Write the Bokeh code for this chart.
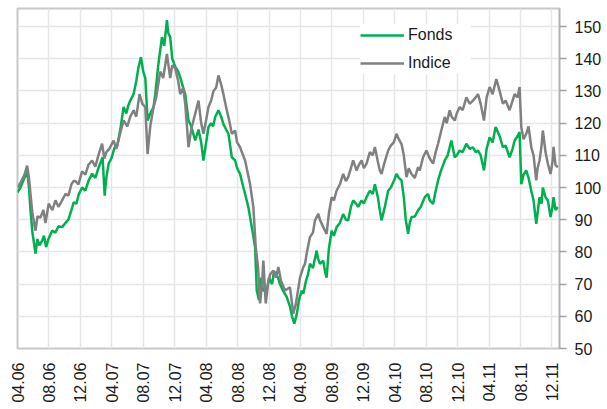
from bokeh.plotting import figure
from bokeh.models import Range1d, FixedTicker, Legend, LegendItem
from bokeh.embed import file_html
from bokeh.resources import INLINE

# x in months since April 2006
tick_labels = ["04.06", "08.06", "12.06", "04.07", "08.07", "12.07", "04.08", "08.08", "12.08",
               "04.09", "08.09", "12.09", "04.10", "08.10", "12.10", "04.11", "08.11", "12.11"]
tick_months = [0, 4, 8, 12, 16, 20, 24, 28, 32, 36, 40, 44, 48, 52, 56, 60, 64, 68]

indice_t = [0, 0.38, 0.89, 1.23, 1.46, 1.65, 1.90, 2.29, 2.54, 2.92, 3.30, 3.56, 3.97, 4.44, 4.83,
            5.21, 5.68, 6.10, 6.48, 6.86, 7.15, 7.37, 7.75, 8.22, 8.64, 9.02, 9.49, 9.91, 10.29,
            10.76, 11.05, 11.30, 11.68, 12.23, 12.57, 13.08, 13.50, 13.97, 14.35, 14.77, 15.11,
            15.53, 15.88, 16.26, 16.55, 16.89, 17.31, 17.65, 18.16, 18.54, 19.01, 19.43, 19.69,
            20.07, 20.45, 20.70, 21.08, 21.34, 21.76, 22.10, 22.39, 22.61, 23.03, 23.37, 23.66,
            24.00, 24.30, 24.64, 24.93, 25.27, 25.57, 25.91, 26.20, 26.63, 26.92, 27.27, 27.69,
            27.94, 28.32, 28.70, 28.96, 29.34, 29.59, 30.01, 30.31, 30.61, 30.86, 31.12, 31.28,
            31.58, 31.88, 32.13, 32.55, 32.89, 33.19, 33.53, 34.04, 34.67, 35.09, 35.43, 35.94,
            36.36, 36.58, 36.83, 37.21, 37.59, 37.85, 38.27, 38.48, 38.90, 39.33, 39.62, 39.97,
            40.26, 40.60, 41.02, 41.44, 41.78, 42.08, 42.42, 42.71, 43.14, 43.43, 43.78, 44.07,
            44.41, 44.83, 45.21, 45.47, 45.85, 46.10, 46.32, 46.61, 47.16, 47.50, 47.88, 48.22,
            48.51, 48.86, 49.15, 49.49, 49.78, 50.13, 50.55, 50.97, 51.18, 51.60, 52.03, 52.45,
            52.87, 53.21, 53.51, 53.85, 54.36, 54.61, 54.99, 55.24, 55.63, 55.88, 56.26, 56.64,
            57.11, 57.53, 57.95, 58.29, 58.59, 58.93, 59.35, 59.69, 60.07, 60.45, 60.92, 61.34,
            61.76, 62.10, 62.61, 62.99, 63.25, 63.63, 63.88, 64.10, 64.39, 64.73, 65.02, 65.37,
            65.66, 66.00, 66.17, 66.42, 66.68, 66.84, 67.18, 67.48, 67.82, 68.07, 68.20, 68.45,
            68.75]
indice_v = [100, 101.5, 104, 106.8, 103, 98, 92, 86.6, 91, 90.7, 93, 89, 95, 93, 96,
            94, 96, 98, 97.5, 101, 102, 102, 101, 105, 104, 107, 108.4, 106.5, 110,
            113.6, 109, 111, 112, 114.6, 112, 117, 120.8, 119, 122, 124, 122,
            129, 126, 125, 110.4, 119, 125, 128, 136, 134, 141.5, 134, 138,
            137, 133, 129, 131, 126, 112.5, 118, 120.8, 122.9, 127, 120, 116.7,
            121, 125, 127, 130, 131, 134.8, 132, 129, 124, 121, 116.7, 117.7,
            114, 112.5, 110, 108.4, 104, 101, 93.9, 81.5, 75, 64, 70, 77.3,
            64, 70, 73, 74.2, 72, 75.3, 71, 68, 69, 60.8, 64, 72,
            75.3, 76.3, 80, 84.6, 86, 89.8, 91.8, 90, 87.7, 85.6, 92, 97,
            96, 99, 101, 104.2, 102, 103.2, 106, 108.4, 105.3, 107, 108.4, 106,
            107.4, 111, 110, 112.6, 108, 105.3, 104.2, 107, 111.5, 113, 114, 116.7,
            115, 113.5, 110, 103.2, 106, 104.2, 103, 106.3, 105.3, 109.4, 111.5, 109,
            107.4, 111, 113.6, 117, 121.9, 120, 124, 122, 120.8, 123, 125, 124,
            128, 126, 127, 128, 129, 126, 120.8, 128, 131.2, 129, 133.7, 130,
            126, 127, 124, 127, 129, 128, 131.2, 118.8, 115, 116.7, 119, 112.5,
            110, 102.2, 106, 108.4, 113, 117.7, 111, 107.4, 104.2, 108, 112.6, 107,
            106.3]

fonds_t = [0, 0.38, 0.89, 1.23, 1.46, 1.65, 1.90, 2.29, 2.54, 2.79, 3.14, 3.37, 3.64, 3.94, 4.41,
           4.83, 5.21, 5.68, 6.10, 6.48, 6.86, 7.15, 7.49, 7.81, 8.22, 8.64, 9.02, 9.49, 9.91,
           10.29, 10.83, 11.09, 11.30, 11.60, 11.94, 12.36, 12.70, 13.08, 13.50, 13.84, 14.10,
           14.35, 14.77, 15.11, 15.37, 15.71, 16.00, 16.26, 16.55, 16.89, 17.31, 17.53, 17.91,
           18.38, 18.67, 19.01, 19.18, 19.43, 19.69, 20.07, 20.45, 20.70, 21.08, 21.34, 21.76,
           22.10, 22.61, 23.03, 23.37, 23.66, 24.00, 24.30, 24.64, 24.89, 25.15, 25.57, 25.91,
           26.20, 26.54, 26.84, 27.27, 27.69, 27.94, 28.32, 28.74, 28.96, 29.37, 29.81, 30.23,
           30.44, 30.73, 30.99, 31.24, 31.71, 32.00, 32.39, 32.64, 32.89, 33.15, 33.40, 33.78,
           34.25, 34.67, 34.93, 35.22, 35.56, 35.81, 36.16, 36.36, 36.70, 36.96, 37.21, 37.59,
           38.06, 38.23, 38.48, 38.90, 39.12, 39.33, 39.62, 39.97, 40.26, 40.60, 41.02, 41.44,
           41.78, 42.08, 42.42, 42.71, 43.05, 43.35, 43.78, 44.07, 44.41, 44.83, 45.21, 45.47,
           45.85, 46.10, 46.32, 46.74, 47.16, 47.50, 47.88, 48.22, 48.51, 48.86, 49.15, 49.40,
           49.70, 49.91, 50.13, 50.55, 50.97, 51.31, 51.82, 52.24, 52.45, 52.87, 53.21, 53.51,
           53.85, 54.36, 54.74, 55.20, 55.63, 55.88, 56.26, 56.64, 57.11, 57.53, 57.95, 58.29,
           58.59, 58.93, 59.35, 59.69, 60.07, 60.45, 60.83, 61.34, 61.76, 62.10, 62.61, 62.99,
           63.25, 63.63, 63.88, 64.10, 64.39, 64.73, 65.02, 65.37, 65.66, 66.00, 66.17, 66.42,
           66.68, 66.84, 67.18, 67.48, 67.82, 68.07, 68.20, 68.45, 68.75]
fonds_v = [98.5, 100, 103, 105, 100, 93, 86, 79.5, 84, 82, 83.5, 85, 81.5, 84, 86.6,
           86, 88, 87.7, 89, 90, 93, 95.4, 95, 98, 100, 99, 102, 104.3, 103,
           106, 109.4, 97.5, 103, 107.4, 109, 112.5, 113, 118, 125, 123, 125.5,
           127, 129, 133, 137, 140.5, 136, 134, 120.8, 123, 125, 129, 138,
           146.7, 144, 152, 148, 146.7, 140, 137.5, 136, 134.3, 131, 129, 120.8,
           119, 114.6, 118, 114, 108.4, 114, 118.8, 120, 119, 121.9, 124, 122,
           119.7, 118, 116.7, 109.4, 108.4, 106, 104.2, 100, 98, 93.9, 87.7, 81.5,
           68, 65, 72, 68, 68, 72, 70, 74, 73, 72, 70, 68,
           66, 63, 60, 57.7, 61, 65, 68, 67, 71, 73, 76.3, 75,
           80.4, 78, 76.3, 77.3, 74, 72, 81, 86.6, 85, 87.7, 89, 91.8,
           90, 89.8, 94, 96, 95, 94, 96, 95, 97, 99, 98, 101,
           97, 92.9, 89.8, 94, 99, 100, 102, 104.2, 103, 102.2, 97, 90,
           85.6, 89, 90.8, 91, 92.9, 94, 97, 98, 96, 94.9, 99, 102.2,
           105, 108.4, 110, 114.6, 109.4, 110, 111.5, 111, 113.6, 112, 112.5, 111,
           111.5, 110, 105.3, 112, 115.6, 114, 118.8, 116, 112.5, 113, 109.4, 112,
           114.6, 116, 117.2, 101, 104, 105.3, 103, 99, 96, 88.7, 92, 97,
           95, 100, 97, 96, 90.8, 94, 97, 93, 93.9]

y_ticks = [50, 60, 70, 80, 90, 100, 110, 120, 130, 140, 150]

FONT = "Liberation Sans"
GREEN = "#00B050"
GRAY = "#808080"

p = figure(width=604, height=406, output_backend="svg", toolbar_location=None,
           x_range=Range1d(0, 68.96), y_range=Range1d(50, 155.6),
           x_axis_location="below", y_axis_location="right",
           min_border_left=17, min_border_top=8, min_border_right=44, min_border_bottom=58)

p.outline_line_color = "#c8c8c8"
p.outline_line_width = 2
p.background_fill_color = "white"
p.border_fill_color = "white"

r_f = p.line(fonds_t, fonds_v, line_color=GREEN, line_width=2.5)
r_i = p.line(indice_t, indice_v, line_color=GRAY, line_width=2.5)

xa = p.xaxis[0]
xa.ticker = FixedTicker(ticks=tick_months)
xa.major_label_overrides = {m: lab for m, lab in zip(tick_months, tick_labels)}
xa.major_label_orientation = 3.14159265 / 2
xa.major_tick_out = 0
xa.major_tick_in = 0
xa.minor_tick_line_color = None
xa.axis_line_color = None
xa.major_label_standoff = 14
xa.major_label_text_font = FONT
xa.major_label_text_font_size = "16px"
xa.major_label_text_color = "#1a1a1a"

ya = p.yaxis[0]
ya.ticker = FixedTicker(ticks=y_ticks)
ya.major_tick_out = 7
ya.major_tick_in = 0
ya.minor_tick_line_color = None
ya.axis_line_color = "#b4b4b4"
ya.axis_line_width = 1.5
ya.major_tick_line_color = "#a0a0a0"
ya.major_tick_line_width = 1.5
ya.major_label_standoff = 8
ya.major_label_text_font = FONT
ya.major_label_text_font_size = "16px"
ya.major_label_text_color = "#1a1a1a"

p.xgrid.ticker = FixedTicker(ticks=tick_months)
p.ygrid.ticker = FixedTicker(ticks=y_ticks)
for g in (p.xgrid[0], p.ygrid[0]):
    g.grid_line_color = "#e6e6e6"
    g.grid_line_width = 1.5

legend = Legend(items=[LegendItem(label="Fonds", renderers=[r_f]),
                       LegendItem(label="Indice", renderers=[r_i])],
                location=(343, 274))
legend.border_line_color = None
legend.background_fill_color = "white"
legend.background_fill_alpha = 1.0
legend.padding = 2
legend.margin = 0
legend.spacing = 6
legend.glyph_width = 44
legend.glyph_height = 22
legend.label_height = 22
legend.label_width = 63
legend.label_standoff = 4
legend.label_text_font = FONT
legend.label_text_font_size = "16px"
legend.label_text_color = "#1a1a1a"
legend.label_text_baseline = "middle"
p.add_layout(legend)

open("out.html", "w").write(file_html(p, INLINE))
